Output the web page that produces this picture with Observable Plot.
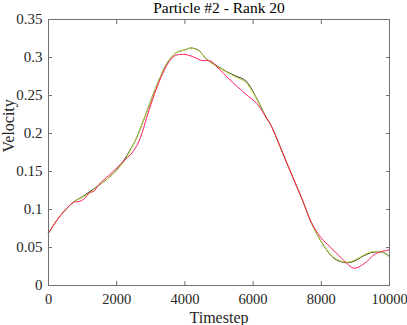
<!DOCTYPE html>
<html><head><meta charset="utf-8">
<script src="https://cdn.jsdelivr.net/npm/d3@7"></script>
<script src="https://cdn.jsdelivr.net/npm/@observablehq/plot@0.6"></script>
<style>body{margin:0;background:#fff}</style>
</head><body><div id="chart"></div>
<script>
const title = "Particle #2 - Rank 20";
const xLabel = "Timestep";
const yLabel = "Velocity";
const xTicks = [0, 2000, 4000, 6000, 8000, 10000];
const yTicks = [0, 0.05, 0.1, 0.15, 0.2, 0.25, 0.3, 0.35];

const greenT = [0, 350, 740, 1000, 1180, 1480, 1870, 2210, 2400, 2550, 2800, 3190, 3480, 3580, 3770, 3870, 4000, 4170, 4400, 4650, 4900, 5240, 5500, 5780, 6070, 6410, 6510, 7000, 7490, 7680, 7980, 8370, 8710, 8960, 9200, 9440, 9790, 10000];
const greenV = [0.069, 0.092, 0.110, 0.116, 0.121, 0.132, 0.146, 0.163, 0.178, 0.191, 0.219, 0.265, 0.293, 0.299, 0.307, 0.3085, 0.310, 0.3125, 0.309, 0.297, 0.289, 0.2805, 0.274, 0.2675, 0.248, 0.219, 0.212, 0.160, 0.1075, 0.0855, 0.059, 0.037, 0.0307, 0.033, 0.039, 0.044, 0.044, 0.037];
const blackV = [0.069, 0.092, 0.110, 0.117, 0.1225, 0.132, 0.146, 0.1645, 0.179, 0.191, 0.219, 0.265, 0.293, 0.299, 0.307, 0.3085, 0.310, 0.3125, 0.3095, 0.297, 0.290, 0.281, 0.2755, 0.2695, 0.249, 0.219, 0.212, 0.160, 0.1075, 0.0855, 0.059, 0.036, 0.030, 0.032, 0.038, 0.043, 0.044, 0.038];

const redT = [0, 350, 740, 900, 1050, 1200, 1330, 1480, 1870, 2210, 2400, 2550, 2700, 2900, 3200, 3500, 3700, 3850, 4070, 4310, 4500, 4750, 5000, 5290, 5780, 6120, 6410, 6510, 7000, 7490, 7680, 7980, 8370, 8660, 8960, 9250, 9590, 10000];
const redV = [0.069, 0.092, 0.1095, 0.1105, 0.114, 0.122, 0.124, 0.133, 0.149, 0.164, 0.172, 0.181, 0.195, 0.224, 0.263, 0.292, 0.302, 0.304, 0.3035, 0.2995, 0.296, 0.2955, 0.285, 0.272, 0.252, 0.239, 0.219, 0.212, 0.160, 0.1075, 0.0855, 0.0636, 0.046, 0.033, 0.0228, 0.0285, 0.0417, 0.047];

const black = greenT.map((t, i) => ({t, v: blackV[i]}));
const green = greenT.map((t, i) => ({t, v: greenV[i]}));
const red = redT.map((t, i) => ({t, v: redV[i]}));

const fmt = d => String(+d.toFixed(2));
const axisColor = "#262626";

const plot = Plot.plot({
  width: 407, height: 325,
  marginLeft: 48, marginRight: 18, marginTop: 19, marginBottom: 40,
  style: {fontFamily: "'Liberation Serif', 'Times New Roman', serif", fontSize: "15px", color: axisColor, background: "#fff", overflow: "visible"},
  x: {domain: [0, 10000]},
  y: {domain: [0, 0.35]},
  marks: [
    Plot.line(black, {x: "t", y: "v", curve: "catmull-rom", stroke: "#2f3320", strokeWidth: 1}),
    Plot.line(green, {x: "t", y: "v", curve: "catmull-rom", stroke: "#b8d43c", strokeWidth: 1}),
    Plot.line(red, {x: "t", y: "v", curve: "catmull-rom", stroke: "#ff1f5a", strokeWidth: 1}),
    Plot.frame({stroke: "#707070", strokeWidth: 1}),
    Plot.axisX(xTicks, {anchor: "bottom", tickSize: -4, tickPadding: 12, fontSize: 14.5, tickFormat: d => String(d), label: null, stroke: "#707070"}),
    Plot.axisX(xTicks, {anchor: "top", tickSize: -4, tickFormat: () => "", label: null, stroke: "#707070"}),
    Plot.axisY(yTicks, {anchor: "left", tickSize: -4, tickPadding: 10, fontSize: 15, tickFormat: fmt, label: null, stroke: "#707070"}),
    Plot.axisY(yTicks, {anchor: "right", tickSize: -4, tickFormat: () => "", label: null, stroke: "#707070"}),
    Plot.text([title], {frameAnchor: "top", dy: -11, fontSize: 15.5, fill: "#000", lineAnchor: "middle"}),
    Plot.text([xLabel], {frameAnchor: "bottom", dy: 32, fontSize: 16, fill: axisColor, lineAnchor: "middle"}),
    Plot.text([yLabel], {frameAnchor: "left", dx: -40, rotate: -90, fontSize: 16, fill: axisColor, lineAnchor: "middle"})
  ]
});
document.getElementById("chart").appendChild(plot);
</script>
</body></html>
